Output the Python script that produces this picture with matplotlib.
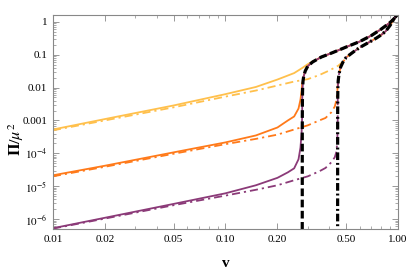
import numpy as np
import matplotlib.pyplot as plt
from matplotlib.ticker import LogLocator, FixedLocator, NullFormatter

plt.rcParams['font.family'] = ['Liberation Serif', 'DejaVu Serif']
plt.rcParams['mathtext.fontset'] = 'stix'

# --- datos ---
# curva negra discontinua (v_c ~ 0.28)
v_neg1 = [0.2785, 0.2787, 0.2792, 0.2800, 0.2815, 0.284, 0.29, 0.30, 0.32, 0.34,
          0.36, 0.40, 0.45, 0.50, 0.60, 0.70, 0.80, 0.90, 0.95, 1.00]
p_neg1 = [1e-7, 1e-3, 5e-3, 0.010, 0.016, 0.022, 0.032, 0.045, 0.060, 0.072,
          0.085, 0.105, 0.135, 0.170, 0.25, 0.38, 0.60, 0.95, 1.25, 1.75]

# curva negra punto-raya (v_c ~ 0.45)
v_neg2 = [0.4465, 0.4467, 0.4472, 0.448, 0.450, 0.455, 0.465, 0.48, 0.50, 0.55,
          0.60, 0.70, 0.75, 0.80, 0.85, 0.90, 0.95, 1.00]
p_neg2 = [1e-7, 1e-3, 5e-3, 0.010, 0.016, 0.026, 0.042, 0.060, 0.082, 0.120,
          0.165, 0.26, 0.32, 0.40, 0.52, 0.78, 1.25, 1.75]

# curvas de color (parte baja, antes de unirse a las negras)
v_am = [0.01, 0.02, 0.05, 0.10, 0.15, 0.20, 0.25, 0.28, 0.30, 0.32, 0.34]
p_am = [5.3e-4, 1.1e-3, 2.85e-3, 6.3e-3, 0.0104, 0.0175, 0.0275, 0.040, 0.0515, 0.062, 0.072]
v_am2 = [0.01, 0.02, 0.05, 0.10, 0.15, 0.20, 0.25, 0.30, 0.35, 0.40, 0.45, 0.48, 0.50]
p_am2 = [5.0e-4, 1.0e-3, 2.5e-3, 5.3e-3, 8.1e-3, 0.0115, 0.0152, 0.018, 0.024, 0.033, 0.046, 0.061, 0.080]

v_na = [0.01, 0.02, 0.05, 0.10, 0.15, 0.20, 0.23, 0.25, 0.265, 0.272, 0.276, 0.2785]
p_na = [2.15e-5, 4.2e-5, 1.07e-4, 2.15e-4, 3.5e-4, 6.1e-4, 1.0e-3, 1.32e-3, 2.3e-3, 4.3e-3, 8.0e-3, 0.014]
v_na2 = [0.01, 0.02, 0.05, 0.10, 0.15, 0.20, 0.25, 0.30, 0.35, 0.38, 0.41, 0.43, 0.44, 0.445, 0.4472]
p_na2 = [2.0e-5, 3.9e-5, 9.7e-5, 1.9e-4, 2.75e-4, 3.7e-4, 5.3e-4, 7.1e-4, 1.0e-3, 1.19e-3,
         1.75e-3, 2.65e-3, 4.3e-3, 7.6e-3, 0.012]

v_mo = [0.01, 0.02, 0.05, 0.10, 0.15, 0.20, 0.23, 0.25, 0.265, 0.272, 0.276, 0.278, 0.2787]
p_mo = [5.3e-7, 1.1e-6, 2.9e-6, 6.1e-6, 1.07e-5, 1.8e-5, 2.65e-5, 3.5e-5, 6.6e-5, 1.5e-4,
        4.0e-4, 1.2e-3, 5e-3]
v_mo2 = [0.01, 0.02, 0.05, 0.10, 0.15, 0.20, 0.25, 0.30, 0.35, 0.38, 0.41, 0.43, 0.44, 0.445, 0.447]
p_mo2 = [5.15e-7, 1.04e-6, 2.65e-6, 5.2e-6, 7.8e-6, 1.07e-5, 1.52e-5, 2.0e-5, 2.85e-5, 3.6e-5,
         5.3e-5, 7.6e-5, 1.15e-4, 2.65e-4, 1.0e-3]

amarillo = '#FFC04C'
naranja = '#FF7A1A'
morado = '#8B3A78'


def con_cola(v, p, vn, pn):
    # la curva de color sigue a la negra despues de unirse
    v_out, p_out = list(v), list(p)
    for a, b in zip(vn, pn):
        if a >= v[-1] and b > p[-1]:
            v_out.append(a)
            p_out.append(b)
    return v_out, p_out


fig = plt.figure(figsize=(4.07, 2.73), dpi=100)
ax = fig.add_axes([0.130, 0.161, 0.848, 0.784])

dd = (0, (4.5, 2.2, 1.2, 2.2))
for v, p, vn, pn, c, ls in [
        (v_am, p_am, v_neg1, p_neg1, amarillo, '-'),
        (v_am2, p_am2, v_neg2, p_neg2, amarillo, dd),
        (v_na, p_na, v_neg1, p_neg1, naranja, '-'),
        (v_na2, p_na2, v_neg2, p_neg2, naranja, dd),
        (v_mo, p_mo, v_neg1, p_neg1, morado, '-'),
        (v_mo2, p_mo2, v_neg2, p_neg2, morado, dd)]:
    vv, pp = con_cola(v, p, vn, pn)
    ax.plot(vv, pp, color=c, lw=1.3, linestyle=ls)

ax.plot(v_neg1, p_neg1, color='black', lw=2.3, linestyle=(0, (2.4, 1.1)))
ax.plot(v_neg2, p_neg2, color='black', lw=2.3, linestyle=(0, (2.4, 0.9, 0.6, 0.9)))

ax.set_xscale('log')
ax.set_yscale('log')
ax.set_xlim(0.01, 1.0)
ax.set_ylim(5e-7, 1.6)

xt = [0.01, 0.02, 0.05, 0.10, 0.20, 0.50, 1.00]
xt_lab = ['0.01', '0.02', '0.05', '0.10', '0.20', '0.50', '1.00']
yt = [1e-6, 1e-5, 1e-4, 1e-3, 1e-2, 1e-1, 1]
yt_lab = [r'$10^{-6}$', r'$10^{-5}$', r'$10^{-4}$', '0.001', '0.01', '0.1', '1']
ax.xaxis.set_major_locator(FixedLocator(xt))
ax.set_xticklabels(xt_lab)
ax.xaxis.set_minor_locator(LogLocator(base=10, subs=np.arange(1, 10)))
ax.xaxis.set_minor_formatter(NullFormatter())
ax.yaxis.set_major_locator(FixedLocator(yt))
ax.set_yticklabels(yt_lab)
ax.yaxis.set_minor_locator(LogLocator(base=10, subs=np.arange(2, 10)))
ax.yaxis.set_minor_formatter(NullFormatter())

ax.tick_params(which='both', direction='in', top=True, right=True,
               color='#888888', labelsize=8, pad=4)
ax.tick_params(which='major', length=4, width=0.6)
ax.tick_params(which='minor', length=2, width=0.5)
for s in ax.spines.values():
    s.set_color('#888888')
    s.set_linewidth(0.8)

ax.set_xlabel('v', fontsize=11, fontweight='bold', labelpad=10)
ax.set_ylabel(r'$\mathbf{\Pi}/\mu^{2}$', fontsize=11.5)
ax.yaxis.set_label_coords(-0.078, 0.42)

plt.savefig('out.png', dpi=100)
